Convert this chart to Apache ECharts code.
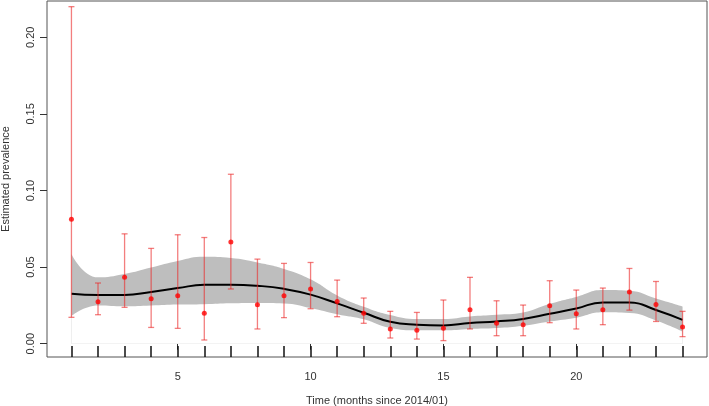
<!DOCTYPE html>
<html>
<head>
<meta charset="utf-8">
<script src="https://cdn.jsdelivr.net/npm/echarts@6/dist/echarts.min.js"></script>
<style>
html, body { margin: 0; padding: 0; background: #fff; }
#main { width: 709px; height: 406px; }
</style>
</head>
<body>
<div id="main"></div>
<script>
// months since 2014/01
var months = [1, 2, 3, 4, 5, 6, 7, 8, 9, 10, 11, 12, 13, 14, 15, 16, 17, 18, 19, 20, 21, 22, 23, 24];

// observed prevalence with interval
var prevalence = [0.0813, 0.0274, 0.0433, 0.0293, 0.0313, 0.0198, 0.0663, 0.0254, 0.0313, 0.0357, 0.0276, 0.0198,
	0.0096, 0.0087, 0.0100, 0.0222, 0.0133, 0.0124, 0.0247, 0.0195, 0.0222, 0.0337, 0.0256, 0.0109];
var ciLower = [0.0172, 0.0189, 0.0237, 0.0106, 0.0100, 0.0024, 0.0357, 0.0096, 0.0170, 0.0228, 0.0176, 0.0133,
	0.0037, 0.0030, 0.0020, 0.0096, 0.0052, 0.0052, 0.0137, 0.0096, 0.0124, 0.0219, 0.0145, 0.0046];
var ciUpper = [0.2200, 0.0396, 0.0717, 0.0622, 0.0711, 0.0693, 0.1106, 0.0552, 0.0524, 0.0530, 0.0415, 0.0298,
	0.0211, 0.0204, 0.0285, 0.0433, 0.0280, 0.0252, 0.0411, 0.0350, 0.0363, 0.0491, 0.0406, 0.0211];

// smoothed fit and band
var fitValue = [0.0326, 0.0318, 0.0318, 0.0338, 0.0363, 0.0384, 0.0385, 0.0378, 0.0358, 0.0320, 0.0263, 0.0202,
	0.0143, 0.0124, 0.0119, 0.0135, 0.0145, 0.0161, 0.0195, 0.0230, 0.0269, 0.0269, 0.0220, 0.0155];
var fitLower = [0.0181, 0.0250, 0.0245, 0.0250, 0.0256, 0.0258, 0.0264, 0.0266, 0.0263, 0.0233, 0.0192, 0.0159,
	0.0102, 0.0087, 0.0087, 0.0096, 0.0102, 0.0117, 0.0145, 0.0170, 0.0205, 0.0200, 0.0152, 0.0080];
var fitUpper = [0.0586, 0.0433, 0.0455, 0.0497, 0.0540, 0.0567, 0.0559, 0.0530, 0.0488, 0.0420, 0.0315, 0.0241,
	0.0187, 0.0161, 0.0161, 0.0178, 0.0189, 0.0204, 0.0260, 0.0305, 0.0350, 0.0345, 0.0295, 0.0243];

// tick labels
var xTicks = [5, 10, 15, 20];
var yTicks = [0, 0.05, 0.10, 0.15, 0.20];

var myChart = echarts.init(document.getElementById('main'));

var pts = [], bars = [], fit = [], upper = [], lower = [];
for (var i = 0; i < months.length; i++) {
	pts.push([months[i], prevalence[i]]);
	bars.push([months[i], ciLower[i], ciUpper[i]]);
	fit.push([months[i], fitValue[i]]);
	upper.push([months[i], fitUpper[i]]);
	lower.push([months[i], fitLower[i]]);
}

var textCol = '#333';
var font = 'Liberation Sans, Arial, sans-serif';

var option = {
	animation: false,
	backgroundColor: '#fff',
	grid: {
		left: 47, top: 1, right: 2, bottom: 49,
		outerBoundsMode: 'none',
		containLabel: false,
		show: true,
		borderColor: '#555',
		borderWidth: 1
	},
	xAxis: [{
		type: 'value',
		min: 0.08,
		max: 24.92,
		name: 'Time (months since 2014/01)',
		nameLocation: 'middle',
		nameGap: 38,
		nameTextStyle: { color: textCol, fontSize: 11, fontFamily: font },
		splitLine: { show: false },
		axisLine: { show: false },
		axisTick: { show: true, length: 6, customValues: xTicks, lineStyle: { color: '#333' } },
		axisLabel: { margin: 14, color: textCol, fontSize: 11, fontFamily: font, customValues: xTicks }
	}, {
		// rug of observation times
		type: 'value',
		position: 'bottom',
		min: 0.08,
		max: 24.92,
		splitLine: { show: false },
		axisLine: { show: false },
		axisLabel: { show: false },
		axisTick: { show: true, inside: true, length: 11, customValues: months, lineStyle: { color: '#111', width: 1.5 } }
	}],
	yAxis: {
		type: 'value',
		min: -0.0087,
		max: 0.2237,
		name: 'Estimated prevalence',
		nameLocation: 'middle',
		nameGap: 36,
		nameTextStyle: { color: textCol, fontSize: 11, fontFamily: font },
		splitLine: { show: false },
		axisLine: { show: false },
		axisTick: { show: true, length: 7, customValues: yTicks, lineStyle: { color: '#333' } },
		axisLabel: {
			rotate: 90,
			margin: 11,
			color: textCol,
			fontSize: 11,
			fontFamily: font,
			customValues: yTicks,
			formatter: function (v) { return v.toFixed(2); }
		}
	},
	series: [{
		// band: grey area under the upper edge...
		type: 'line',
		data: upper,
		symbol: 'none',
		smooth: true,
		lineStyle: { width: 0 },
		areaStyle: { color: '#bebebe', opacity: 1 },
		z: 1
	}, {
		// ...masked in white under the lower edge
		type: 'line',
		data: lower,
		symbol: 'none',
		smooth: true,
		lineStyle: { width: 0 },
		areaStyle: { color: '#fff', opacity: 1 },
		z: 1.5
	}, {
		type: 'line',
		data: fit,
		symbol: 'none',
		smooth: true,
		lineStyle: { color: '#000', width: 2 },
		z: 2
	}, {
		type: 'custom',
		data: bars,
		z: 3,
		renderItem: function (params, api) {
			var x = api.value(0);
			var lo = api.coord([x, api.value(1)]);
			var hi = api.coord([x, api.value(2)]);
			var w = 3;
			var st = { stroke: 'rgba(235,40,40,0.6)', lineWidth: 1.3 };
			return {
				type: 'group',
				children: [
					{ type: 'line', shape: { x1: lo[0], y1: lo[1], x2: hi[0], y2: hi[1] }, style: st },
					{ type: 'line', shape: { x1: lo[0] - w, y1: lo[1], x2: lo[0] + w, y2: lo[1] }, style: st },
					{ type: 'line', shape: { x1: hi[0] - w, y1: hi[1], x2: hi[0] + w, y2: hi[1] }, style: st }
				]
			};
		}
	}, {
		type: 'scatter',
		data: pts,
		symbol: 'circle',
		symbolSize: 5,
		itemStyle: { color: '#f00' },
		z: 4
	}]
};
myChart.setOption(option);
</script>
</body>
</html>
